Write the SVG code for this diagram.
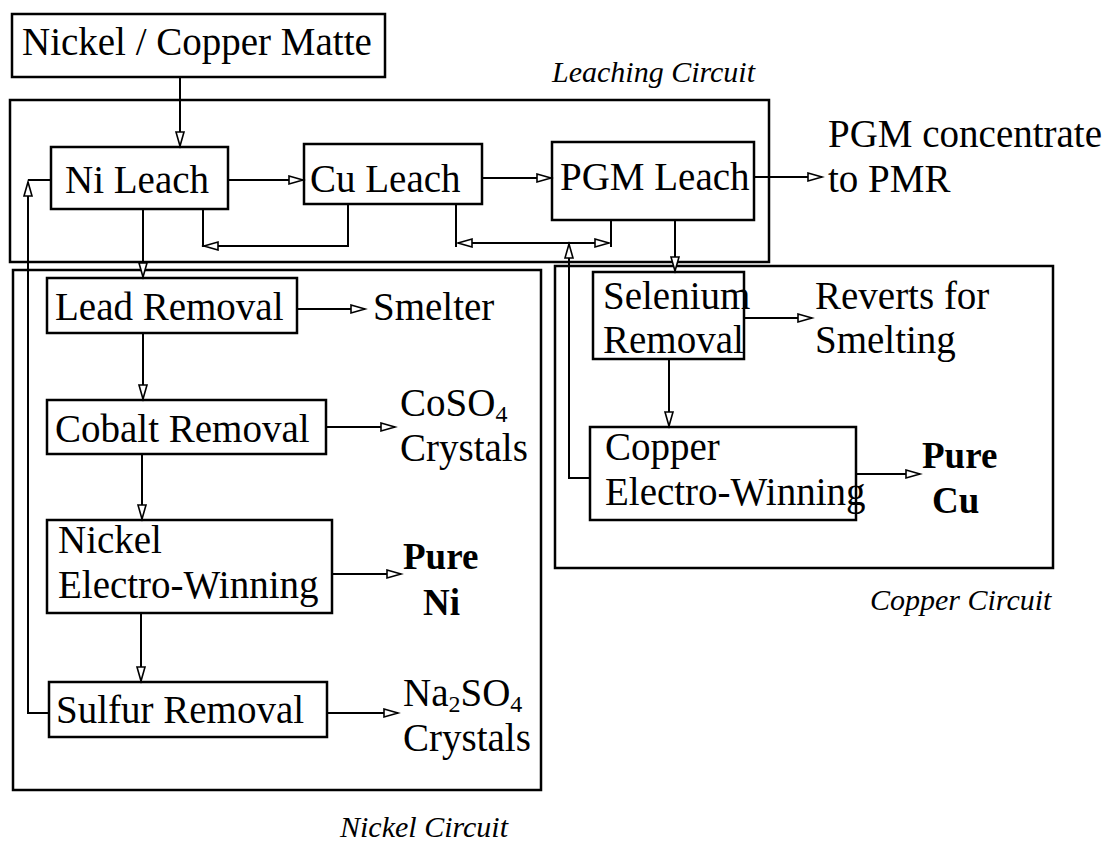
<svg xmlns="http://www.w3.org/2000/svg" width="1107" height="845" viewBox="0 0 1107 845">
<defs>
<style>
.box{fill:none;stroke:#000;stroke-width:2.5}
.frame{fill:none;stroke:#000;stroke-width:2.5}
.t{font-family:"Liberation Serif","Times New Roman",serif;font-size:39px;fill:#000}
.b{font-family:"Liberation Serif","Times New Roman",serif;font-size:37px;font-weight:bold;fill:#000}
.lab{font-family:"Liberation Serif","Times New Roman",serif;font-size:30px;font-style:italic;fill:#000}
.sub{font-size:24px}
.c{fill:none;stroke:#000;stroke-width:2}
.a{marker-end:url(#ah)}
.a2{marker-start:url(#ah);marker-end:url(#ah)}
</style>
<marker id="ah" markerUnits="userSpaceOnUse" markerWidth="18" markerHeight="12" refX="15" refY="5" orient="auto-start-reverse" viewBox="0 0 18 12">
<path d="M1,1 L15,5 L1,9 Z" fill="#fff" stroke="#000" stroke-width="1.6"/>
</marker>
</defs>
<rect width="1107" height="845" fill="#fff"/>

<g id="circuits">
<rect class="frame" x="10" y="100" width="759" height="162"/>
<rect class="frame" x="13" y="270" width="528" height="520"/>
<rect class="frame" x="555" y="266" width="498" height="302"/>
<text class="lab" x="552" y="82">Leaching Circuit</text>
<text class="lab" x="340" y="837">Nickel Circuit</text>
<text class="lab" x="870" y="610">Copper Circuit</text>
</g>

<g id="matte"><rect class="box" x="12" y="14" width="373" height="63"/><text class="t" x="22" y="55">Nickel / Copper Matte</text></g>
<g id="ni-leach"><rect class="box" x="51" y="147" width="177" height="62"/><text class="t" x="65" y="193">Ni Leach</text></g>
<g id="cu-leach"><rect class="box" x="304" y="144" width="178" height="60"/><text class="t" x="310" y="192">Cu Leach</text></g>
<g id="pgm-leach"><rect class="box" x="552" y="142" width="202" height="78"/><text class="t" x="560" y="190">PGM Leach</text></g>
<g id="pgm-out"><text class="t" x="828" y="147">PGM concentrate</text><text class="t" x="828" y="192">to PMR</text></g>

<g id="lead"><rect class="box" x="47" y="278" width="250" height="55"/><text class="t" x="55" y="320">Lead Removal</text></g>
<g id="smelter"><text class="t" x="373" y="320">Smelter</text></g>
<g id="cobalt"><rect class="box" x="47" y="400" width="279" height="54"/><text class="t" x="55" y="442">Cobalt Removal</text></g>
<g id="coso4"><text class="t" x="400" y="416">CoSO<tspan class="sub" dy="6">4</tspan></text><text class="t" x="400" y="461">Crystals</text></g>
<g id="ni-ew"><rect class="box" x="47" y="520" width="285" height="93"/><text class="t" x="58" y="553">Nickel</text><text class="t" x="58" y="598">Electro-Winning</text></g>
<g id="pure-ni"><text class="b" x="403" y="569">Pure</text><text class="b" x="423" y="615">Ni</text></g>
<g id="sulfur"><rect class="box" x="49" y="682" width="278" height="55"/><text class="t" x="56" y="723">Sulfur Removal</text></g>
<g id="na2so4"><text class="t" x="403" y="706">Na<tspan class="sub" dy="6">2</tspan><tspan dy="-6">SO</tspan><tspan class="sub" dy="6">4</tspan></text><text class="t" x="403" y="751">Crystals</text></g>

<g id="selenium"><rect class="box" x="593" y="272" width="151" height="87"/><text class="t" x="603" y="309">Selenium</text><text class="t" x="603" y="353">Removal</text></g>
<g id="reverts"><text class="t" x="815" y="309">Reverts for</text><text class="t" x="815" y="353">Smelting</text></g>
<g id="cu-ew"><rect class="box" x="590" y="427" width="266" height="93"/><text class="t" x="605" y="460">Copper</text><text class="t" x="605" y="505">Electro-Winning</text></g>
<g id="pure-cu"><text class="b" x="922" y="468">Pure</text><text class="b" x="932" y="513">Cu</text></g>

<g id="connectors">
<line class="c a" x1="180" y1="77" x2="180" y2="146"/>
<line class="c a" x1="228" y1="180" x2="303" y2="180"/>
<line class="c a" x1="482" y1="178" x2="551" y2="178"/>
<line class="c a" x1="754" y1="177" x2="822" y2="177"/>
<polyline class="c a" points="348,204 348,246 204,246"/>
<line class="c" x1="203" y1="209" x2="203" y2="247"/>
<line class="c" x1="456" y1="204" x2="456" y2="247"/>
<line class="c" x1="611" y1="220" x2="611" y2="247"/>
<line class="c a2" x1="458" y1="243" x2="609" y2="243"/>
<line class="c a" x1="675" y1="220" x2="675" y2="271"/>
<line class="c a" x1="143" y1="209" x2="143" y2="277"/>
<line class="c a" x1="297" y1="309" x2="365" y2="309"/>
<line class="c a" x1="143" y1="333" x2="143" y2="399"/>
<line class="c a" x1="326" y1="427" x2="395" y2="427"/>
<line class="c a" x1="142" y1="454" x2="142" y2="519"/>
<line class="c a" x1="332" y1="574" x2="401" y2="574"/>
<line class="c a" x1="141" y1="613" x2="141" y2="681"/>
<line class="c a" x1="327" y1="713" x2="398" y2="713"/>
<polyline class="c a" points="49,713 28,713 28,182"/>
<line class="c" x1="28" y1="180" x2="51" y2="180"/>
<line class="c a" x1="744" y1="318" x2="812" y2="318"/>
<line class="c a" x1="669" y1="359" x2="669" y2="426"/>
<line class="c a" x1="856" y1="474" x2="920" y2="474"/>
<polyline class="c a" points="590,478 569,478 569,244"/>
</g>
</svg>
